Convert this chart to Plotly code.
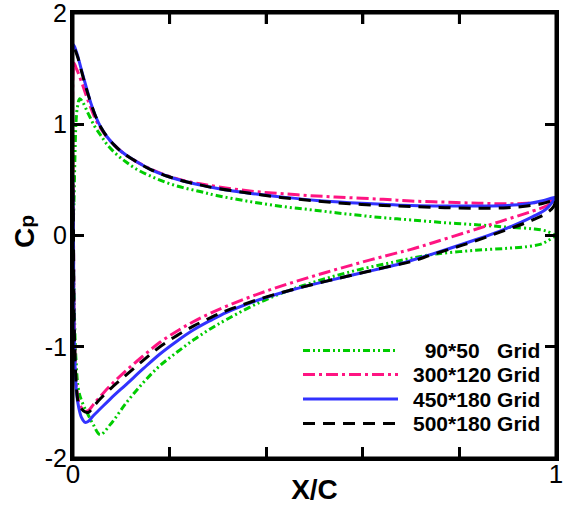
import plotly.graph_objects as go

# ---- data ----
# 90*50 grid
g90_up_x = [0.0, 0.002, 0.004, 0.006, 0.009, 0.014, 0.02, 0.031, 0.045, 0.059, 0.072, 0.09, 0.11, 0.13, 0.16, 0.194, 0.228, 0.263, 0.297, 0.366, 0.435, 0.505, 0.573, 0.642, 0.70, 0.77, 0.84, 0.90, 0.952, 0.98, 1.0]
g90_up_cp = [0.0, 0.3, 0.7, 1.0, 1.15, 1.23, 1.2, 1.10, 0.98, 0.89, 0.81, 0.73, 0.66, 0.60, 0.535, 0.475, 0.43, 0.395, 0.36, 0.305, 0.26, 0.225, 0.19, 0.16, 0.14, 0.115, 0.095, 0.075, 0.06, 0.04, 0.0]
g90_lo_x = [0.0, 0.002, 0.006, 0.012, 0.021, 0.03, 0.042, 0.056, 0.077, 0.111, 0.146, 0.18, 0.215, 0.249, 0.284, 0.318, 0.387, 0.456, 0.525, 0.594, 0.663, 0.70, 0.745, 0.80, 0.85, 0.90, 0.94, 0.967, 0.98, 1.0]
g90_lo_cp = [0.0, -0.5, -1.1, -1.4, -1.52, -1.6, -1.70, -1.79, -1.70, -1.50, -1.32, -1.17, -1.05, -0.94, -0.84, -0.755, -0.60, -0.48, -0.385, -0.305, -0.24, -0.205, -0.17, -0.145, -0.128, -0.115, -0.10, -0.08, -0.055, 0.0]

# 300*120 grid
g300_up_x = [0.0, 0.002, 0.006, 0.011, 0.021, 0.028, 0.035, 0.045, 0.056, 0.07, 0.085, 0.1, 0.125, 0.16, 0.194, 0.228, 0.263, 0.297, 0.366, 0.435, 0.505, 0.573, 0.642, 0.70, 0.77, 0.84, 0.90, 0.94, 0.97, 0.99, 1.0]
g300_up_cp = [1.45, 1.55, 1.51, 1.46, 1.34, 1.25, 1.17, 1.06, 0.97, 0.885, 0.815, 0.755, 0.68, 0.60, 0.54, 0.495, 0.465, 0.44, 0.40, 0.375, 0.355, 0.34, 0.325, 0.31, 0.30, 0.29, 0.285, 0.29, 0.30, 0.315, 0.32]
g300_lo_x = [0.0, 0.001, 0.003, 0.007, 0.012, 0.018, 0.028, 0.035, 0.042, 0.056, 0.077, 0.111, 0.146, 0.18, 0.215, 0.249, 0.284, 0.318, 0.387, 0.456, 0.525, 0.594, 0.663, 0.70, 0.745, 0.815, 0.884, 0.952, 0.98, 1.0]
g300_lo_cp = [1.45, 0.0, -0.9, -1.35, -1.5, -1.55, -1.58, -1.56, -1.52, -1.45, -1.35, -1.21, -1.08, -0.96, -0.86, -0.775, -0.70, -0.635, -0.52, -0.42, -0.33, -0.245, -0.165, -0.125, -0.065, 0.03, 0.125, 0.22, 0.265, 0.32]

# 450*180 grid
g450_up_x = [0.0, 0.004, 0.01, 0.018, 0.027, 0.037, 0.047, 0.058, 0.07, 0.085, 0.1, 0.125, 0.16, 0.194, 0.228, 0.263, 0.297, 0.366, 0.435, 0.505, 0.573, 0.642, 0.70, 0.77, 0.84, 0.90, 0.94, 0.97, 0.99, 1.0]
g450_up_cp = [1.72, 1.69, 1.61, 1.48, 1.34, 1.19, 1.07, 0.97, 0.89, 0.815, 0.755, 0.68, 0.595, 0.535, 0.49, 0.455, 0.425, 0.38, 0.345, 0.315, 0.295, 0.28, 0.27, 0.265, 0.265, 0.27, 0.285, 0.31, 0.335, 0.345]
g450_lo_x = [0.0, 0.001, 0.003, 0.007, 0.012, 0.018, 0.025, 0.032, 0.042, 0.056, 0.077, 0.111, 0.146, 0.18, 0.215, 0.249, 0.284, 0.318, 0.387, 0.456, 0.525, 0.594, 0.663, 0.70, 0.745, 0.815, 0.884, 0.952, 0.98, 1.0]
g450_lo_cp = [1.72, 0.0, -1.0, -1.4, -1.55, -1.64, -1.68, -1.67, -1.62, -1.56, -1.47, -1.335, -1.195, -1.065, -0.95, -0.85, -0.765, -0.69, -0.575, -0.485, -0.41, -0.34, -0.27, -0.225, -0.165, -0.065, 0.04, 0.17, 0.24, 0.345]

# 500*180 grid
g500_up_x = [0.0, 0.004, 0.01, 0.018, 0.027, 0.037, 0.047, 0.058, 0.07, 0.085, 0.1, 0.125, 0.16, 0.194, 0.228, 0.263, 0.297, 0.366, 0.435, 0.505, 0.573, 0.642, 0.70, 0.77, 0.84, 0.90, 0.94, 0.97, 0.99, 1.0]
g500_up_cp = [1.70, 1.67, 1.60, 1.47, 1.33, 1.19, 1.07, 0.97, 0.89, 0.815, 0.755, 0.68, 0.595, 0.535, 0.49, 0.455, 0.425, 0.38, 0.34, 0.31, 0.285, 0.27, 0.26, 0.25, 0.245, 0.25, 0.265, 0.285, 0.31, 0.32]
g500_lo_x = [0.0, 0.001, 0.003, 0.007, 0.011, 0.018, 0.025, 0.032, 0.042, 0.056, 0.077, 0.111, 0.146, 0.18, 0.215, 0.249, 0.284, 0.318, 0.387, 0.456, 0.525, 0.594, 0.663, 0.70, 0.745, 0.815, 0.884, 0.952, 0.98, 0.995, 1.0]
g500_lo_cp = [1.70, 0.0, -0.9, -1.35, -1.5, -1.56, -1.585, -1.59, -1.54, -1.47, -1.38, -1.25, -1.12, -1.0, -0.90, -0.815, -0.74, -0.675, -0.57, -0.485, -0.41, -0.34, -0.27, -0.235, -0.17, -0.075, 0.03, 0.14, 0.20, 0.26, 0.32]

legend_labels = ["\u00a0\u00a090*50\u00a0\u00a0\u00a0Grid", "300*120 Grid", "450*180 Grid", "500*180 Grid"]
colors = ["rgb(0,204,0)", "rgb(255,20,130)", "rgb(50,50,255)", "black"]
dashes = ["7px,3px,2px,3px,2px,3px", "12px,4px,3px,4px", "solid", "12px,8px"]
ups = [(g90_up_x, g90_up_cp), (g300_up_x, g300_up_cp), (g450_up_x, g450_up_cp), (g500_up_x, g500_up_cp)]
lows = [(g90_lo_x, g90_lo_cp), (g300_lo_x, g300_lo_cp), (g450_lo_x, g450_lo_cp), (g500_lo_x, g500_lo_cp)]

x_tickvals = [0, 0.2, 0.4, 0.6, 0.8, 1.0]
x_ticktext = ["0", "", "", "", "", "1"]
y_tickvals = [-2, -1, 0, 1, 2]
y_ticktext = ["-2", "-1", "0", "1", "2"]

FONT = "Liberation Sans, Arial, sans-serif"
W, H = 564, 505
ML, MR, MT, MB = 73, 8, 13, 47
PW, PH = W - ML - MR, H - MT - MB
TICKLEN = 11

def px_x(px):
    return (px - ML) / PW

def px_y(py):
    return (H - MB - py) / PH

fig = go.Figure()
for name, (ux, ucp), (lx, lcp), color, dash in zip(legend_labels, ups, lows, colors, dashes):
    xs = list(ux) + list(reversed(lx))
    ys = list(ucp) + list(reversed(lcp))
    fig.add_trace(go.Scatter(
        x=xs, y=ys, mode="lines", name=name, showlegend=False,
        line=dict(color=color, width=3, dash=dash, shape="spline", smoothing=1.0),
    ))

# manual legend (key lines + labels)
legend_rows_px = [350.5, 374.5, 399, 423.5]
shapes = []
annotations = []
for label, color, dash, ry in zip(legend_labels, colors, dashes, legend_rows_px):
    shapes.append(dict(type="line", xref="paper", yref="paper",
                       x0=px_x(303), x1=px_x(398), y0=px_y(ry), y1=px_y(ry),
                       line=dict(color=color, width=3, dash=dash)))
    annotations.append(dict(text=label, xref="paper", yref="paper",
                            x=px_x(411), y=px_y(ry), xanchor="left", yanchor="middle",
                            showarrow=False,
                            font=dict(family=FONT, size=21, color="black", weight="bold")))

# frame of the plot area and the mirrored ticks on the top edge
shapes.append(dict(type="rect", xref="paper", yref="paper", x0=0, x1=1, y0=0, y1=1,
                   line=dict(color="black", width=3), layer="above"))
for tv in x_tickvals[1:-1]:
    shapes.append(dict(type="line", xref="x", yref="paper", x0=tv, x1=tv,
                       y0=1, y1=1 - TICKLEN / PH,
                       line=dict(color="black", width=3), layer="above"))

annotations.append(dict(
    text="C<span style='font-size:21px'>p</span>", xref="paper", yref="paper",
    x=px_x(24), y=px_y(232), xanchor="center", yanchor="middle", textangle=-90,
    showarrow=False, font=dict(family=FONT, size=28, color="black", weight="bold"),
))

fig.update_layout(
    width=W, height=H,
    margin=dict(l=ML, r=MR, t=MT, b=MB),
    paper_bgcolor="white", plot_bgcolor="white",
    font=dict(family=FONT, color="black"),
    showlegend=False,
    xaxis=dict(
        range=[0, 1], tickvals=x_tickvals, ticktext=x_ticktext,
        ticks="inside", ticklen=TICKLEN, tickwidth=3, tickcolor="black",
        showline=True, linewidth=3, linecolor="black", mirror="ticks",
        showgrid=False, zeroline=False,
        tickfont=dict(family=FONT, size=26, color="black"),
        ticklabeloverflow="allow", ticklabelstandoff=-9,
        title=dict(text="X/C", font=dict(family=FONT, size=28, color="black", weight="bold"), standoff=2),
        automargin=False,
    ),
    yaxis=dict(
        range=[-2, 2], tickvals=y_tickvals, ticktext=y_ticktext,
        ticks="inside", ticklen=TICKLEN, tickwidth=3, tickcolor="black",
        showline=True, linewidth=3, linecolor="black", mirror="ticks",
        showgrid=False, zeroline=False,
        tickfont=dict(family=FONT, size=25, color="black"),
        ticklabelstandoff=-2, ticklabeloverflow="allow",
        automargin=False,
    ),
    shapes=shapes,
    annotations=annotations,
)

fig.write_html("out.html", config={"displayModeBar": False},
               post_script="document.body.style.margin='0';")
